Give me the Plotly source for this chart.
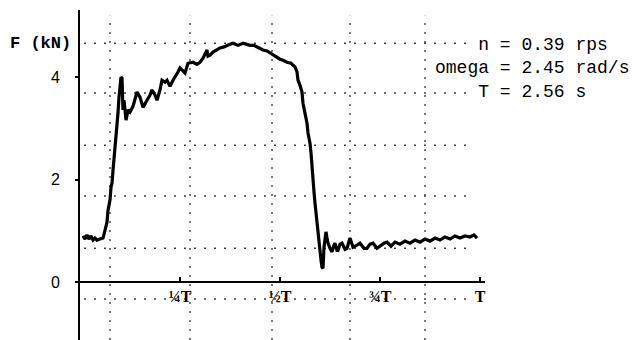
import plotly.graph_objects as go

# time in units of the period T, force in kN
t_frac = [0.0075, 0.0125, 0.0175, 0.0225, 0.0275, 0.0325, 0.0375, 0.0425, 0.05, 0.0575,
          0.0625, 0.0675, 0.07, 0.075, 0.0775, 0.08, 0.0825, 0.0875, 0.09, 0.0925,
          0.095, 0.0975, 0.10, 0.1025, 0.105, 0.1075, 0.11, 0.115, 0.12, 0.125,
          0.1325, 0.1375, 0.1425, 0.15, 0.1575, 0.1675, 0.175, 0.18, 0.1875, 0.1925,
          0.20, 0.205, 0.2125, 0.2175, 0.225, 0.2325, 0.2375, 0.245, 0.25, 0.255,
          0.2625, 0.27, 0.2825, 0.2925, 0.30, 0.3075, 0.3175, 0.32, 0.325, 0.3325,
          0.3425, 0.35, 0.36, 0.3675, 0.375, 0.3825, 0.395, 0.4075, 0.4175, 0.425,
          0.435, 0.4425, 0.4575, 0.4675, 0.475, 0.485, 0.4925, 0.50, 0.5075, 0.5175,
          0.5275, 0.5375, 0.5425, 0.545, 0.55, 0.555, 0.5575, 0.5625, 0.5675, 0.57,
          0.575, 0.5775, 0.58, 0.5825, 0.585, 0.5875, 0.59, 0.5925, 0.595, 0.5975,
          0.60, 0.6025, 0.605, 0.6075, 0.61, 0.6125, 0.615, 0.6175, 0.62, 0.625,
          0.63, 0.635, 0.6375, 0.6425, 0.645, 0.65, 0.655, 0.6625, 0.6675, 0.675,
          0.68, 0.6825, 0.6925, 0.70, 0.71, 0.7175, 0.725, 0.7325, 0.7425, 0.75,
          0.76, 0.7675, 0.7775, 0.7875, 0.80, 0.8125, 0.825, 0.8375, 0.85, 0.8625,
          0.875, 0.8875, 0.90, 0.9125, 0.925, 0.9375, 0.95, 0.9625, 0.975, 0.985,
          0.9925]
force_kn = [0.90, 0.84, 0.92, 0.84, 0.90, 0.82, 0.86, 0.82, 0.84, 0.86,
            1.01, 1.17, 1.40, 1.60, 1.85, 1.93, 2.18, 2.63, 2.77, 2.97,
            3.30, 3.61, 3.84, 4.00, 3.98, 3.36, 3.55, 3.16, 3.36, 3.32,
            3.43, 3.55, 3.71, 3.61, 3.41, 3.55, 3.65, 3.75, 3.65, 3.55,
            3.75, 3.94, 3.90, 3.94, 3.82, 3.94, 4.00, 4.10, 4.18, 4.14,
            4.08, 4.27, 4.29, 4.25, 4.29, 4.37, 4.53, 4.41, 4.43, 4.49,
            4.53, 4.57, 4.59, 4.62, 4.64, 4.66, 4.62, 4.66, 4.64, 4.62,
            4.62, 4.59, 4.53, 4.51, 4.47, 4.43, 4.39, 4.35, 4.33, 4.29,
            4.27, 4.20, 4.10, 3.94, 3.84, 3.71, 3.49, 3.30, 3.10, 2.91,
            2.71, 2.52, 2.32, 1.99, 1.76, 1.54, 1.35, 1.15, 0.88, 0.76,
            0.62, 0.43, 0.29, 0.27, 0.68, 0.92, 0.98, 0.86, 0.76, 0.66,
            0.59, 0.72, 0.76, 0.62, 0.62, 0.74, 0.76, 0.64, 0.66, 0.86,
            0.70, 0.68, 0.72, 0.76, 0.66, 0.66, 0.74, 0.76, 0.66, 0.70,
            0.76, 0.78, 0.70, 0.78, 0.74, 0.80, 0.76, 0.82, 0.78, 0.84,
            0.80, 0.86, 0.82, 0.88, 0.84, 0.90, 0.86, 0.90, 0.88, 0.92,
            0.86]

y_ticks = [0, 2, 4]
y_tick_text = ["0", "2", "4"]
x_ticks = [0.25, 0.5, 0.75, 1.0]
x_tick_text = ["<b>¼T</b>", "<b>½T</b>", "<b>¾T</b>", "<b>T</b>"]

# oscilloscope dotted graticule
grid_h = [4.66, 3.69, 2.67, 1.68, 0.66, -0.33]
grid_v = [0.075, 0.275, 0.48, 0.675, 0.8625]

info_lines = ["\u00a0\u00a0\u00a0\u00a0n = 0.39 rps",
              "omega = 2.45 rad/s",
              "\u00a0\u00a0\u00a0\u00a0T = 2.56 s"]

Y_MIN, Y_MAX = -1.13, 5.31
X_MIN, X_MAX = 0.0, 1.0125

fig = go.Figure()
fig.add_trace(go.Scatter(x=t_frac, y=force_kn, mode="lines",
                         line=dict(color="black", width=3.2),
                         hoverinfo="skip", showlegend=False))

shapes = []
for g in grid_h:
    shapes.append(dict(type="line", xref="x", yref="y", x0=0.01, x1=0.975, y0=g, y1=g,
                       line=dict(color="#444", width=1.4, dash="2px,8px"), layer="below"))
for g in grid_v:
    shapes.append(dict(type="line", xref="x", yref="y", x0=g, x1=g, y0=Y_MIN, y1=5.2,
                       line=dict(color="#444", width=1.4, dash="2px,7px"), layer="below"))

annotations = [dict(text="<b>F (kN)</b>", xref="paper", yref="paper",
                    x=-0.178, y=0.897, xanchor="left", yanchor="middle", showarrow=False,
                    font=dict(family="Liberation Mono", size=17, color="black"))]
info_y = [0.894, 0.824, 0.752]
for line, yy in zip(info_lines, info_y):
    annotations.append(dict(text=line, xref="paper", yref="paper", x=0.8716, y=yy,
                            xanchor="left", yanchor="middle", showarrow=False,
                            font=dict(family="Liberation Mono", size=18, color="black")))

zero_pos = (0 - Y_MIN) / (Y_MAX - Y_MIN)

fig.update_layout(
    width=635, height=340,
    margin=dict(l=80, r=150, t=10, b=0),
    paper_bgcolor="white", plot_bgcolor="white",
    shapes=shapes, annotations=annotations,
    xaxis=dict(range=[X_MIN, X_MAX], anchor="free", position=zero_pos,
               showline=True, linecolor="black", linewidth=2,
               showgrid=False, zeroline=False,
               ticks="inside", ticklen=4, tickwidth=2, tickcolor="black",
               tickvals=x_ticks, ticktext=x_tick_text,
               tickfont=dict(family="Liberation Serif", size=16, color="black")),
    yaxis=dict(range=[Y_MIN, Y_MAX], showline=True, linecolor="black", linewidth=2,
               showgrid=False, zeroline=False,
               ticks="outside", ticklen=3, tickwidth=2, tickcolor="black",
               tickvals=y_ticks, ticktext=y_tick_text, ticklabelstandoff=12,
               tickfont=dict(family="Liberation Sans", size=16, color="black")),
)

fig.write_html("out.html")
